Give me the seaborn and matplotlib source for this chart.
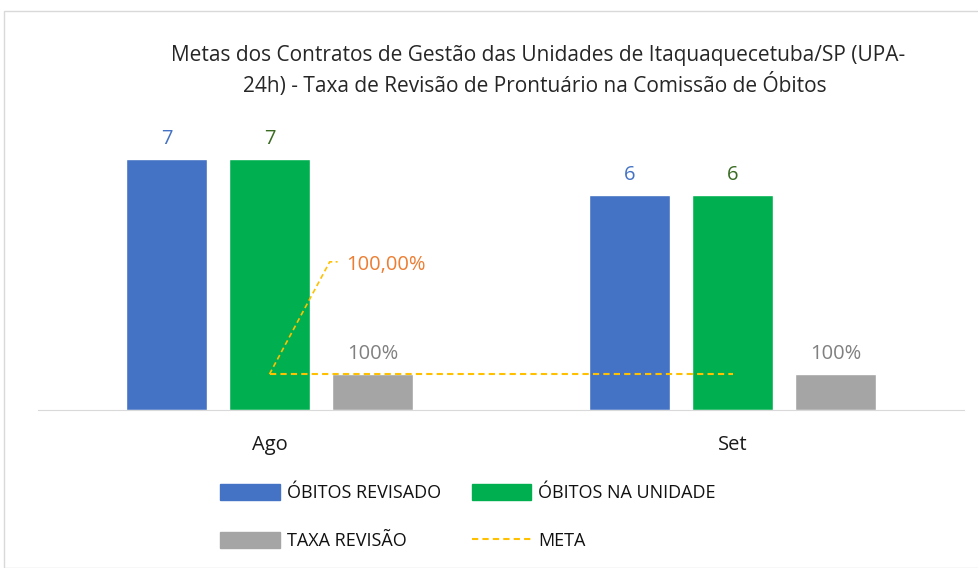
import matplotlib
matplotlib.use("Agg")
from matplotlib import pyplot as plt
from matplotlib.patches import Rectangle
from matplotlib.lines import Line2D
import pandas as pd
import seaborn as sb

# dados
meses = ["Ago", "Set"]
obitos_revisados = [7, 6]
obitos_unidade = [7, 6]
taxa_revisao = [1.0, 1.0]   # 100%
meta = [1.0, 1.0]
series = ["ÓBITOS REVISADO", "ÓBITOS NA UNIDADE", "TAXA REVISÃO"]
cores = ["#4472C4", "#00B050", "#A5A5A5"]
cor_meta = "#FFC000"

df = pd.DataFrame({
    "mes": meses * 3,
    "serie": [series[0]] * 2 + [series[1]] * 2 + [series[2]] * 2,
    "valor": obitos_revisados + obitos_unidade + taxa_revisao,
})

sb.set_style("white")
plt.rcParams["font.family"] = ["Open Sans", "DejaVu Sans"]

fig = plt.figure(figsize=(9.79, 5.68), dpi=100)
ax = fig.add_axes([38/979, 1-410/568, (964-38)/979, (410-123)/568])

sb.barplot(data=df, x="mes", y="valor", hue="serie", hue_order=series,
           palette=cores, width=0.6675, gap=0.222, saturation=1,
           ax=ax, legend=False)

sb.lineplot(x=[0, 1], y=meta, color=cor_meta, linestyle=(0, (3, 2)),
            linewidth=1.5, ax=ax)

# rótulos das barras
cores_txt = ["#4472C4", "#3A6B22", "#808080"]
rotulos = [[str(v) for v in obitos_revisados],
           [str(v) for v in obitos_unidade],
           ["%d%%" % round(v*100) for v in taxa_revisao]]
for cont, lab, c in zip(ax.containers, rotulos, cores_txt):
    ax.bar_label(cont, labels=lab, padding=7, color=c, fontsize=14.5)

# rótulo da meta com linha de chamada
ax.plot([0, 0.13, 0.147], [meta[0], 4.13, 4.13], color=cor_meta,
        linestyle=(0, (3, 2)), linewidth=1.2)
ax.text(0.165, 4.05, "%s%%" % ("%.2f" % (meta[0]*100)).replace(".", ","),
        color="#ED7D31", fontsize=14.5, va="center", ha="left")

ax.set_xlim(-0.5, 1.5)
ax.set_ylim(0, 8)
ax.set_xlabel("")
ax.set_ylabel("")
ax.set_yticks([])
ax.tick_params(axis="x", length=0, labelsize=14.5, pad=18, labelcolor="#1a1a1a")
for s in ["top", "right", "left"]:
    ax.spines[s].set_visible(False)
ax.spines["bottom"].set_color("#D9D9D9")

fig.text(538/979, 1-55/568,
         "Metas dos Contratos de Gestão das Unidades de Itaquaquecetuba/SP (UPA-",
         ha="center", va="center", fontsize=15, color="#262626")
fig.text(535/979, 1-85/568,
         "24h) - Taxa de Revisão de Prontuário na Comissão de Óbitos",
         ha="center", va="center", fontsize=15, color="#262626")

handles = [Rectangle((0, 0), 1, 1, color=cores[0]),
           Rectangle((0, 0), 1, 1, color=cores[2]),
           Rectangle((0, 0), 1, 1, color=cores[1]),
           Line2D([0], [0], color=cor_meta, linestyle=(0, (3, 2)), linewidth=1.5)]
labels = [series[0], series[2], series[1], "META"]
leg = fig.legend(handles, labels, ncol=2, loc="center", bbox_to_anchor=(468/979, 1-517/568),
                 frameon=False, fontsize=13, handlelength=3.3, handleheight=1.0,
                 columnspacing=1.7, labelspacing=1.65, handletextpad=0.4)
for t in leg.get_texts():
    t.set_color("#111111")

fig.patches.append(Rectangle((4/979, 0), 1, 1-11/568, transform=fig.transFigure,
                             fill=False, edgecolor="#D9D9D9", linewidth=1))

fig.savefig("out.png", dpi=100)
